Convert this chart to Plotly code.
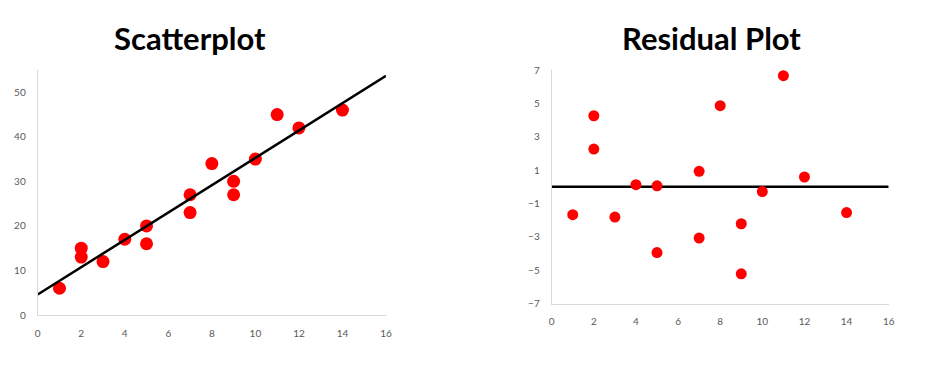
import plotly.graph_objects as go

# Data
x_vals = [1, 2, 2, 3, 4, 5, 5, 7, 7, 8, 9, 9, 10, 11, 12, 14]
y_vals = [6, 15, 13, 12, 17, 20, 16, 27, 23, 34, 30, 27, 35, 45, 42, 46]
residuals = [-1.67, 4.26, 2.26, -1.81, 0.13, 0.06, -3.94, 0.93, -3.07,
             4.86, -2.21, -5.21, -0.28, 6.66, 0.59, -1.54]
fit_x = [0, 16]
fit_y = [4.6, 53.7]
zero_x = [0, 16]
zero_y = [0, 0]
left_yticks = [0, 10, 20, 30, 40, 50]
right_yticks = [-7, -5, -3, -1, 1, 3, 5, 7]
xticks = [0, 2, 4, 6, 8, 10, 12, 14, 16]

# page body has an 8px margin; size the figure to fit inside the window
OFF = 8
W, H = 936 - 2 * OFF, 370 - 2 * OFF
FONT = "Lato"
TICKC = "#595959"
AXC = "#d9d9d9"


def fx(px):
    return (px - OFF) / W


def fy(py):
    return 1 - (py - OFF) / H


fig = go.Figure()

# Left: scatter then trend line on top
fig.add_trace(go.Scatter(x=x_vals, y=y_vals, mode="markers",
                         marker=dict(color="#ff0000", size=13),
                         xaxis="x", yaxis="y", showlegend=False))
fig.add_trace(go.Scatter(x=fit_x, y=fit_y, mode="lines",
                         line=dict(color="#000000", width=2.5),
                         xaxis="x", yaxis="y", showlegend=False))

# Right: zero line under markers
fig.add_trace(go.Scatter(x=zero_x, y=zero_y, mode="lines",
                         line=dict(color="#000000", width=2.5),
                         xaxis="x2", yaxis="y2", showlegend=False))
fig.add_trace(go.Scatter(x=x_vals, y=residuals, mode="markers",
                         marker=dict(color="#ff0000", size=11),
                         xaxis="x2", yaxis="y2", showlegend=False))

axis_common = dict(showgrid=False, zeroline=False, showline=True,
                   linecolor=AXC, linewidth=1, ticks="", automargin=False,
                   tickfont=dict(family=FONT, size=10, color=TICKC))

fig.update_layout(
    width=W, height=H,
    margin=dict(l=0, r=0, t=0, b=0, pad=0),
    paper_bgcolor="white", plot_bgcolor="white",
    xaxis=dict(domain=[fx(37.7), fx(386)], range=[0, 16], tickvals=xticks,
               anchor="y", ticklabelstandoff=9, **axis_common),
    yaxis=dict(domain=[fy(315), fy(70)], range=[0, 55], tickvals=left_yticks,
               anchor="x", ticklabelstandoff=9, **axis_common),
    xaxis2=dict(domain=[fx(551.7), fx(888.7)], range=[0, 16], tickvals=xticks,
                anchor="y2", ticklabelstandoff=8, **axis_common),
    yaxis2=dict(domain=[fy(303.7), fy(70)], range=[-7, 7], tickvals=right_yticks,
                anchor="x2", ticklabelstandoff=9, **axis_common),
    annotations=[
        dict(text="<b>Scatterplot</b>", x=fx(190), y=fy(38), xref="paper", yref="paper",
             showarrow=False, xanchor="center", yanchor="middle",
             font=dict(family=FONT, size=31, color="#000000")),
        dict(text="<b>Residual Plot</b>", x=fx(711), y=fy(38), xref="paper", yref="paper",
             showarrow=False, xanchor="center", yanchor="middle",
             font=dict(family=FONT, size=31, color="#000000")),
    ],
)

fig.write_html("out.html")
